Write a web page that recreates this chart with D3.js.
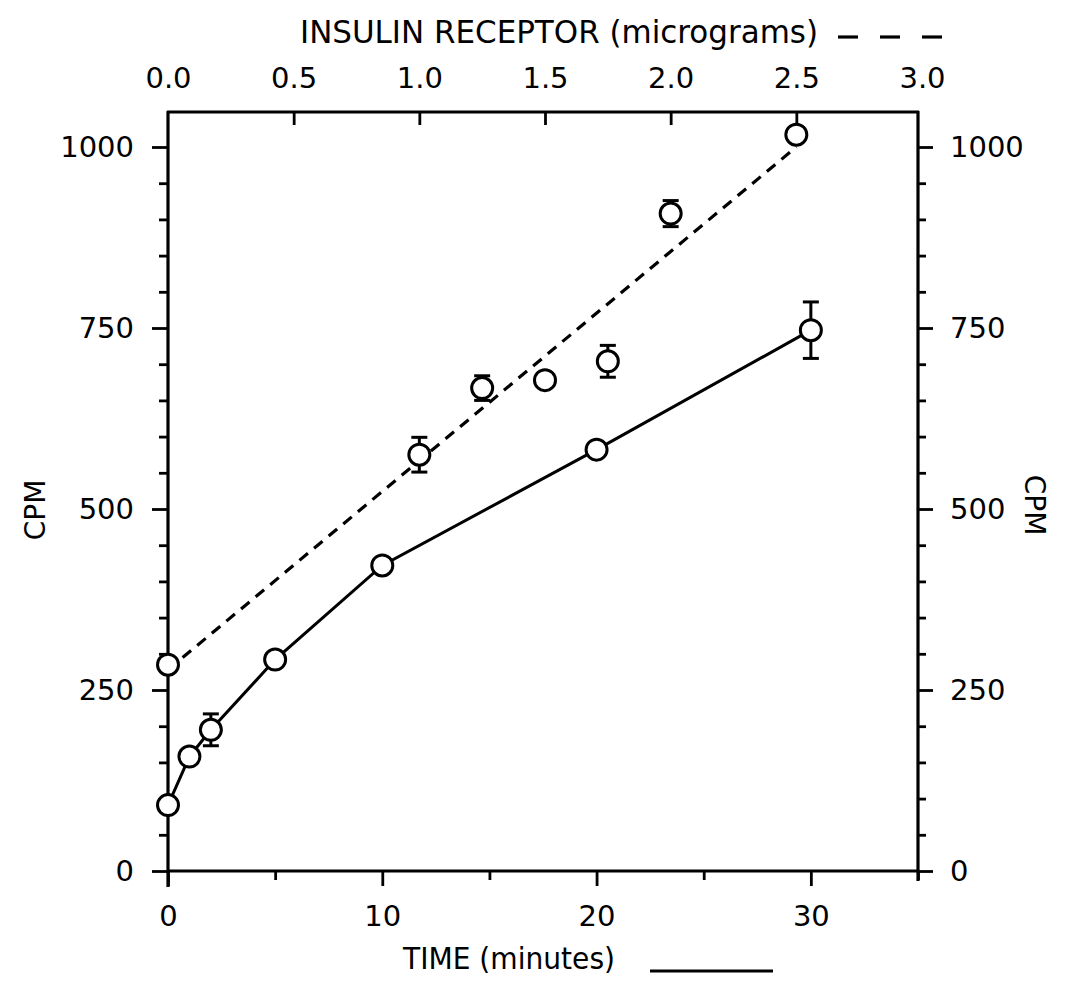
<!DOCTYPE html>
<html>
<head>
<meta charset="utf-8">
<script src="https://cdn.jsdelivr.net/npm/d3@7"></script>
<style>
  html, body { margin: 0; padding: 0; background: #fff; }
  svg { display: block; }
  text { font-family: "DejaVu Sans", sans-serif; fill: #000; }
</style>
</head>
<body>
<svg id="chart" width="1065" height="988"></svg>
<script>
// ---- data ----
const timeMinutes = [0, 1, 2, 5, 10, 20, 30];
const timeCpm     = [91, 158, 195, 292, 422, 582, 747];
const timeErr     = [0, 0, 22, 0, 0, 0, 39];

const receptorUg  = [0, 1.0, 1.25, 1.5, 1.75, 2.0, 2.5];
const receptorCpm = [285, 575, 667, 678, 704, 908, 1017];
const receptorErr = [0, 24, 17, 0, 22, 18, 0];

// fitted (dashed) line end points: [micrograms, cpm]
const receptorFitX = [0, 2.5];
const receptorFitY = [278, 1000];

const cpmMajorTicks  = [0, 250, 500, 750, 1000];
const cpmMinorTicks  = [50, 100, 150, 200, 300, 350, 400, 450, 550, 600, 650, 700, 800, 850, 900, 950];
const timeMajorTicks = [0, 10, 20, 30];
const timeMinorTicks = [5, 15, 25, 35];
const ugTicks        = [0, 0.5, 1.0, 1.5, 2.0, 2.5, 3.0];

// ---- layout ----
const svg = d3.select("#chart");
const L = 168, R = 918, T = 112, B = 871;

const x = d3.scaleLinear().domain([0, 35]).range([L, R]);
const xTop = d3.scaleLinear().domain([0, 3]).range([L, 922]);
const y = d3.scaleLinear().domain([0, 1000]).range([B, 147]);

const black = "#000";
const axisW = 3.2;
const tickFont = "29px";

// frame
const frame = svg.append("g").attr("stroke", black).attr("stroke-width", axisW).attr("fill", "none");
frame.append("line").attr("x1", L).attr("x2", L).attr("y1", T - 1).attr("y2", B + 16);
frame.append("line").attr("x1", R).attr("x2", R).attr("y1", T - 1).attr("y2", B + 10);
frame.append("line").attr("x1", L - 1).attr("x2", R + 1).attr("y1", T).attr("y2", T);
frame.append("line").attr("x1", L - 1).attr("x2", R + 1).attr("y1", B).attr("y2", B);

function styleAxis(g) {
  g.select(".domain").remove();
  g.selectAll(".tick line").attr("stroke", black).attr("stroke-width", 2.8);
  g.selectAll(".tick text").style("font-size", tickFont).attr("font-family", "DejaVu Sans, sans-serif");
}

// left axis
svg.append("g").attr("transform", `translate(${L},0)`)
  .call(d3.axisLeft(y).tickValues(cpmMinorTicks).tickSize(9).tickFormat(""))
  .call(styleAxis);
svg.append("g").attr("transform", `translate(${L},0)`)
  .call(d3.axisLeft(y).tickValues(cpmMajorTicks).tickSize(16).tickPadding(18).tickFormat(d3.format("d")))
  .call(styleAxis);

// right axis
svg.append("g").attr("transform", `translate(${R},0)`)
  .call(d3.axisRight(y).tickValues(cpmMinorTicks).tickSize(8).tickFormat(""))
  .call(styleAxis);
svg.append("g").attr("transform", `translate(${R},0)`)
  .call(d3.axisRight(y).tickValues(cpmMajorTicks).tickSize(15).tickPadding(17).tickFormat(d3.format("d")))
  .call(styleAxis);

// bottom axis
svg.append("g").attr("transform", `translate(0,${B})`)
  .call(d3.axisBottom(x).tickValues(timeMinorTicks).tickSize(9).tickFormat(""))
  .call(styleAxis);
svg.append("g").attr("transform", `translate(0,${B})`)
  .call(d3.axisBottom(x).tickValues(timeMajorTicks).tickSize(15).tickPadding(19).tickFormat(d3.format("d")))
  .call(styleAxis);

// top axis (ticks inward)
const topAx = svg.append("g").attr("transform", `translate(0,${T})`)
  .call(d3.axisTop(xTop).tickValues(ugTicks).tickSize(-13).tickPadding(0).tickFormat(d3.format(".1f")))
  .call(styleAxis);
topAx.selectAll(".tick text").attr("y", -24);
topAx.selectAll(".tick").filter(d => d === 0 || d === 3).select("line").remove();

// axis titles
svg.append("text").attr("x", 300).attr("y", 43)
  .attr("textLength", 518).attr("lengthAdjust", "spacingAndGlyphs")
  .style("font-size", "32px").text("INSULIN RECEPTOR (micrograms)");
const dashLegend = svg.append("g").attr("stroke", black).attr("stroke-width", 3.2);
[[838, 858], [880, 900], [922, 942]].forEach(([a, b]) =>
  dashLegend.append("line").attr("x1", a).attr("x2", b).attr("y1", 37).attr("y2", 37));

svg.append("text").attr("x", 403).attr("y", 969)
  .attr("textLength", 212).attr("lengthAdjust", "spacingAndGlyphs")
  .style("font-size", "30px").text("TIME (minutes)");
svg.append("line").attr("x1", 650).attr("x2", 773).attr("y1", 971).attr("y2", 971)
  .attr("stroke", black).attr("stroke-width", 3.2);

svg.append("text").attr("transform", "translate(45,510) rotate(-90)")
  .attr("text-anchor", "middle").style("font-size", "28px").text("CPM");
svg.append("text").attr("transform", "translate(1025,505) rotate(90)")
  .attr("text-anchor", "middle").style("font-size", "28px").text("CPM");

// ---- marks ----
const timeData = timeMinutes.map((t, i) => ({ x: x(t), y: timeCpm[i], e: timeErr[i] }));
const recData = receptorUg.map((u, i) => ({ x: xTop(u), y: receptorCpm[i], e: receptorErr[i] }));
const fitData = receptorFitX.map((u, i) => [xTop(u), y(receptorFitY[i])]);

// dashed fit line
svg.append("path").datum(fitData)
  .attr("d", d3.line())
  .attr("fill", "none").attr("stroke", black).attr("stroke-width", 3.2)
  .attr("stroke-dasharray", "11,8");

// solid time line
svg.append("path").datum(timeData)
  .attr("d", d3.line().x(d => d.x).y(d => y(d.y)))
  .attr("fill", "none").attr("stroke", black).attr("stroke-width", 3);

function drawPoints(data) {
  const g = svg.append("g");
  const withErr = data.filter(d => d.e > 0);
  const eb = g.append("g").attr("stroke", black).attr("stroke-width", 3);
  withErr.forEach(d => {
    eb.append("line").attr("x1", d.x).attr("x2", d.x).attr("y1", y(d.y + d.e)).attr("y2", y(d.y - d.e));
    eb.append("line").attr("x1", d.x - 8).attr("x2", d.x + 8).attr("y1", y(d.y + d.e)).attr("y2", y(d.y + d.e));
    eb.append("line").attr("x1", d.x - 8).attr("x2", d.x + 8).attr("y1", y(d.y - d.e)).attr("y2", y(d.y - d.e));
  });
  g.selectAll("circle").data(data).join("circle")
    .attr("cx", d => d.x).attr("cy", d => y(d.y)).attr("r", 10.5)
    .attr("fill", "#fff").attr("stroke", black).attr("stroke-width", 3);
}
drawPoints(timeData);
drawPoints(recData);
</script>
</body>
</html>
